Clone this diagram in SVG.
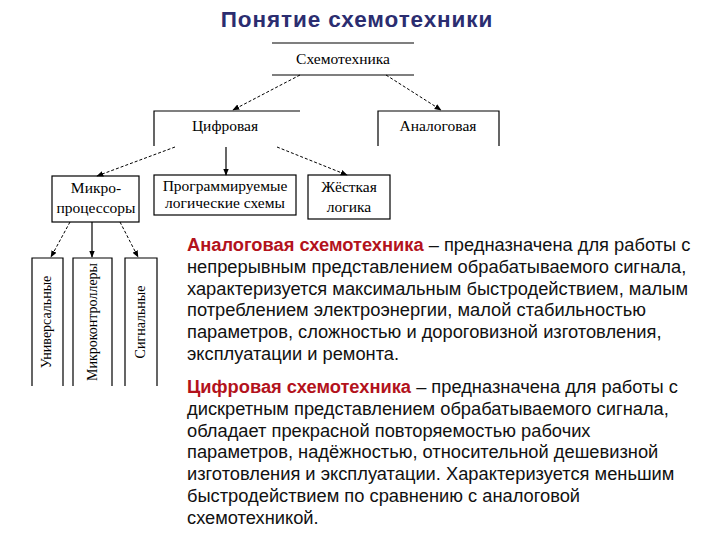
<svg xmlns="http://www.w3.org/2000/svg" width="720" height="540" viewBox="0 0 720 540">
<defs>
<marker id="ah" viewBox="0 0 10 10" refX="9" refY="5" markerWidth="7" markerHeight="7" orient="auto" markerUnits="userSpaceOnUse">
<path d="M0,1 L10,5 L0,9 Z" fill="#000"/>
</marker>
<style>
.ln{stroke:#000;stroke-width:1.2;fill:none}
.bx{stroke:#000;stroke-width:1.2;fill:#fff}
.dc{stroke:#000;stroke-width:1;fill:none;stroke-dasharray:3,2}
.sc{stroke:#000;stroke-width:1.2;fill:none}
.dt{font-family:"Liberation Serif","Times New Roman",serif;font-size:15.5px;fill:#000;text-anchor:middle}
.vt{font-family:"Liberation Serif","Times New Roman",serif;font-size:14px;fill:#000;text-anchor:middle}
.pt{font-family:"Liberation Sans",Arial,sans-serif;font-size:18.3px;fill:#111}
.red{fill:#B3121C;font-weight:bold}
</style>
</defs>
<rect width="720" height="540" fill="#fff"/>
<text x="357" y="27" text-anchor="middle" font-family="Liberation Sans,Arial,sans-serif" font-weight="bold" font-size="22.5" letter-spacing="0.9" fill="#2B2D70">Понятие схемотехники</text>

<g id="n-root">
<line class="ln" x1="272" y1="43" x2="414" y2="43"/>
<line class="ln" x1="272" y1="75" x2="414" y2="75"/>
<text class="dt" x="343" y="64">Схемотехника</text>
</g>
<g id="n-digital">
<path class="ln" d="M154,146 V111 H300"/>
<text class="dt" x="225" y="131">Цифровая</text>
</g>
<g id="n-analog">
<path class="ln" d="M378,146 V111 H499 V146"/>
<text class="dt" x="438" y="131">Аналоговая</text>
</g>
<g id="n-micro">
<rect class="bx" x="52" y="176" width="87" height="46"/>
<text class="dt" x="96" y="193">Микро-</text>
<text class="dt" x="96" y="213">процессоры</text>
</g>
<g id="n-pls">
<rect class="bx" x="154" y="175" width="142" height="40"/>
<text class="dt" x="225" y="191">Программируемые</text>
<text class="dt" x="225" y="208">логические схемы</text>
</g>
<g id="n-hard">
<rect class="bx" x="308" y="175" width="82" height="44"/>
<text class="dt" x="349" y="192">Жёсткая</text>
<text class="dt" x="349" y="212">логика</text>
</g>
<g id="n-univ">
<path class="ln" d="M32,386 V258 H63 V386"/>
<text class="vt" transform="translate(51,322) rotate(-90)">Универсальные</text>
</g>
<g id="n-mcu">
<path class="ln" d="M73,386 V258 H112 V386"/>
<text class="vt" transform="translate(97,322) rotate(-90)">Микроконтроллеры</text>
</g>
<g id="n-sig">
<path class="ln" d="M125,386 V258 H157 V386"/>
<text class="vt" transform="translate(145,322) rotate(-90)">Сигнальные</text>
</g>

<g id="connectors">
<line class="dc" x1="300" y1="75" x2="233" y2="110" marker-end="url(#ah)"/>
<line class="dc" x1="386" y1="75" x2="441" y2="110" marker-end="url(#ah)"/>
<line class="dc" x1="175" y1="147" x2="97" y2="176" marker-end="url(#ah)"/>
<line class="sc" x1="226" y1="147" x2="226" y2="175" marker-end="url(#ah)"/>
<line class="dc" x1="277" y1="147" x2="347" y2="175" marker-end="url(#ah)"/>
<line class="dc" x1="70" y1="222" x2="51" y2="257" marker-end="url(#ah)"/>
<line class="sc" x1="92" y1="222" x2="92" y2="257" marker-end="url(#ah)"/>
<line class="dc" x1="120" y1="222" x2="138" y2="257" marker-end="url(#ah)"/>
</g>

<g id="text-analog">
<text class="pt" x="187" y="251"><tspan class="red">Аналоговая схемотехника</tspan> – предназначена для работы с</text>
<text class="pt" x="187" y="273">непрерывным представлением обрабатываемого сигнала,</text>
<text class="pt" x="187" y="295">характеризуется максимальным быстродействием, малым</text>
<text class="pt" x="187" y="316">потреблением электроэнергии, малой стабильностью</text>
<text class="pt" x="187" y="338">параметров, сложностью и дороговизной изготовления,</text>
<text class="pt" x="187" y="360">эксплуатации и ремонта.</text>
</g>
<g id="text-digital">
<text class="pt" x="187" y="393"><tspan class="red">Цифровая схемотехника</tspan> – предназначена для работы с</text>
<text class="pt" x="187" y="415">дискретным представлением обрабатываемого сигнала,</text>
<text class="pt" x="187" y="437">обладает прекрасной повторяемостью рабочих</text>
<text class="pt" x="187" y="458">параметров, надёжностью, относительной дешевизной</text>
<text class="pt" x="187" y="480">изготовления и эксплуатации. Характеризуется меньшим</text>
<text class="pt" x="187" y="502">быстродействием по сравнению с аналоговой</text>
<text class="pt" x="187" y="524">схемотехникой.</text>
</g>
</svg>
